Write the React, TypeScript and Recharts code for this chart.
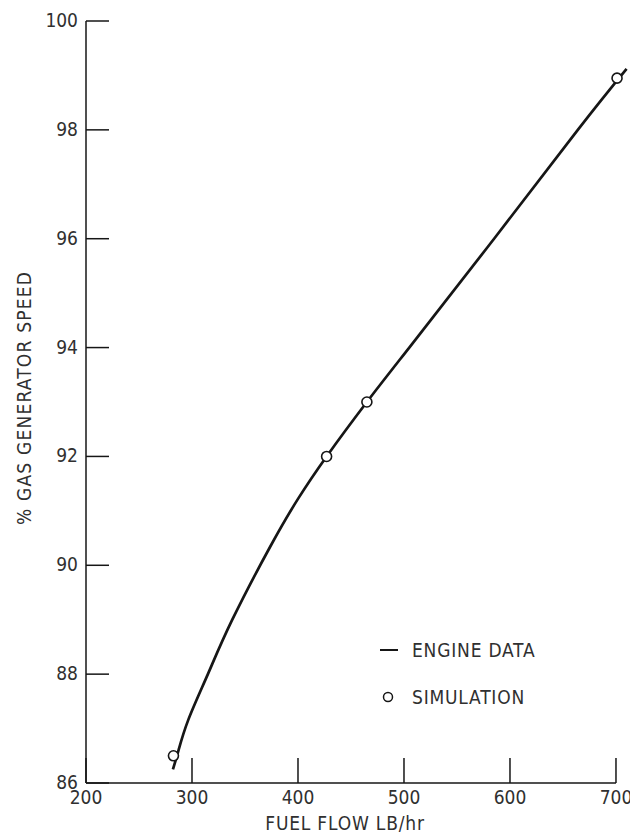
import { ComposedChart, Line, Scatter, XAxis, YAxis, Legend, ReferenceLine } from 'recharts';

const FONT = '"DejaVu Sans Condensed", "Liberation Sans Narrow", sans-serif';
const INK = '#161616';
const TEXT = '#303030';

// engine data curve
const engineFlow = [282, 287, 296.5, 315, 338, 374, 400, 427, 465, 505, 585, 664, 710];
const engineSpeed = [86.25, 86.58, 87.16, 88.0, 89.0, 90.35, 91.22, 92.0, 93.0, 94.0, 96.0, 98.0, 99.12];

// simulation points
const simFlow = [282.5, 427, 465, 701];
const simSpeed = [86.5, 92.0, 93.0, 98.95];

const xTicks = [200, 300, 400, 500, 600, 700];
const yTicks = [86, 88, 90, 92, 94, 96, 98, 100];

const engineData = engineFlow.map((f, i) => ({ flow: f, speed: engineSpeed[i] }));
const simData = simFlow.map((f, i) => ({ flow: f, speed: simSpeed[i] }));

const XTick = (props: any) => {
    const { x, y, payload } = props;
    return (
        <g>
            <line x1={x} y1={y} x2={x} y2={y - 25} stroke={INK} strokeWidth={1.5} />
            <text x={x} y={y + 21} textAnchor="middle" fontFamily={FONT} fontSize={19} fill={TEXT}>
                {payload.value}
            </text>
        </g>
    );
};

const YTick = (props: any) => {
    const { x, y, payload } = props;
    return (
        <g>
            <line x1={x} y1={y} x2={x + 23} y2={y} stroke={INK} strokeWidth={1.5} />
            <text x={x - 8} y={y + 6} textAnchor="end" fontFamily={FONT} fontSize={19} fill={TEXT}>
                {payload.value}
            </text>
        </g>
    );
};

const LegendBox = () => (
    <div style={{ fontFamily: FONT, fontSize: 19, color: TEXT, letterSpacing: 0.8 }}>
        <div style={{ display: 'flex', alignItems: 'center', height: 24, marginBottom: 23 }}>
            <svg width={24} height={24}>
                <line x1={4} y1={12} x2={22} y2={12} stroke={INK} strokeWidth={2} />
            </svg>
            <span style={{ marginLeft: 12 }}>ENGINE DATA</span>
        </div>
        <div style={{ display: 'flex', alignItems: 'center', height: 24 }}>
            <svg width={24} height={24}>
                <circle cx={12} cy={12} r={4.5} fill="#fff" stroke={INK} strokeWidth={1.5} />
            </svg>
            <span style={{ marginLeft: 12 }}>SIMULATION</span>
        </div>
    </div>
);

export default function App() {
    return (
        <div style={{ position: 'absolute', left: 0, top: 0, background: '#fff' }}>
            <ComposedChart width={630} height={838} margin={{ top: 21, right: 1.3, left: 0, bottom: 0 }}>
                <XAxis
                    type="number"
                    dataKey="flow"
                    domain={[200, 712]}
                    ticks={xTicks}
                    axisLine={false}
                    tickLine={false}
                    tickSize={0}
                    tickMargin={0}
                    height={55}
                    tick={<XTick />}
                    label={{
                        content: () => (
                            <text x={345} y={830} textAnchor="middle" fontFamily={FONT} fontSize={19} fill={TEXT} letterSpacing={0.8}>
                                FUEL FLOW LB/hr
                            </text>
                        ),
                    }}
                />
                <YAxis
                    type="number"
                    dataKey="speed"
                    domain={[86, 100]}
                    ticks={yTicks}
                    width={86}
                    axisLine={{ stroke: INK, strokeWidth: 1.5 }}
                    tickLine={false}
                    tickSize={0}
                    tickMargin={0}
                    tick={<YTick />}
                    label={{
                        content: () => (
                            <text
                                x={31}
                                y={398}
                                transform="rotate(-90 31 398)"
                                textAnchor="middle"
                                fontFamily={FONT}
                                fontSize={19}
                                fill={TEXT}
                                letterSpacing={1.2}
                            >
                                % GAS GENERATOR SPEED
                            </text>
                        ),
                    }}
                />
                <ReferenceLine
                    segment={[{ x: 200, y: 86 }, { x: 700, y: 86 }]}
                    stroke={INK}
                    strokeWidth={1.5}
                    ifOverflow="visible"
                />
                <Line
                    data={engineData}
                    dataKey="speed"
                    type="natural"
                    stroke={INK}
                    strokeWidth={2.7}
                    dot={false}
                    isAnimationActive={false}
                />
                <Scatter
                    data={simData}
                    dataKey="speed"
                    isAnimationActive={false}
                    shape={(p: any) => (
                        <circle cx={p.cx} cy={p.cy} r={5} fill="#fff" stroke={INK} strokeWidth={1.6} />
                    )}
                />
                <Legend
                    layout="vertical"
                    align="center"
                    verticalAlign="middle"
                    content={<LegendBox />}
                    wrapperStyle={{ left: 376, top: 638, width: 220 }}
                />
            </ComposedChart>
        </div>
    );
}
